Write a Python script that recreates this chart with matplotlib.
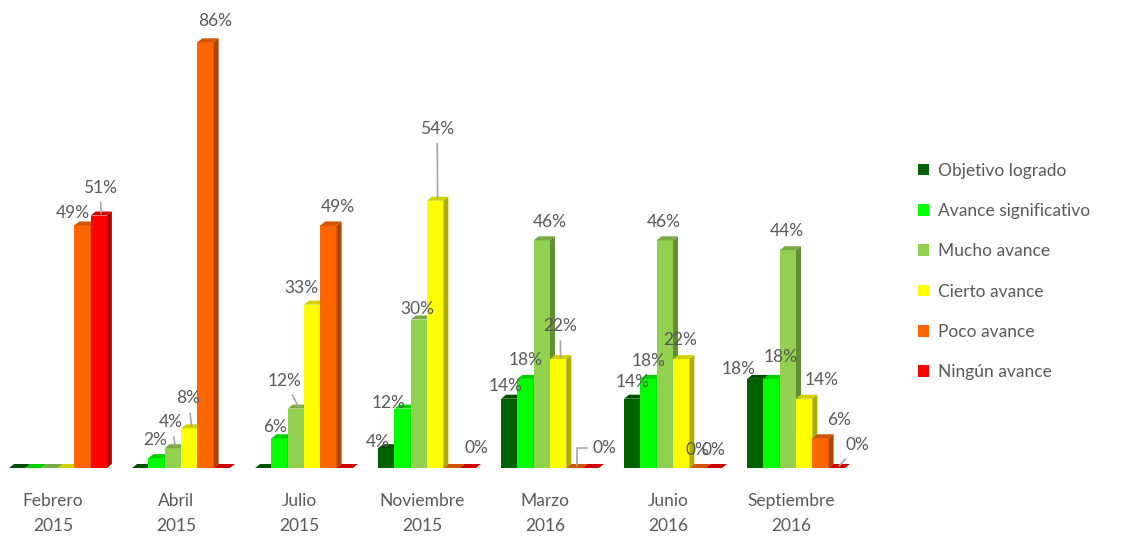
import matplotlib.pyplot as plt
import matplotlib.colors as mcolors
from matplotlib.patches import Polygon, Patch

plt.rcParams['font.family'] = ['Lato', 'DejaVu Sans']

# Data
categories = ['Febrero\n2015', 'Abril\n2015', 'Julio\n2015', 'Noviembre\n2015',
              'Marzo\n2016', 'Junio\n2016', 'Septiembre\n2016']
series = ['Objetivo logrado', 'Avance significativo', 'Mucho avance',
          'Cierto avance', 'Poco avance', 'Ningún avance']
objetivo = [0, 0, 0, 4, 14, 14, 18]
significativo = [0, 2, 6, 12, 18, 18, 18]
mucho = [0, 4, 12, 30, 46, 46, 44]
cierto = [0, 8, 33, 54, 22, 22, 14]
poco = [49, 86, 49, 0, 0, 0, 6]
ninguno = [51, 0, 0, 0, 0, 0, 0]
values = [objetivo, significativo, mucho, cierto, poco, ninguno]

colors = ['#006100', '#00FF00', '#92D050', '#FFFF00', '#FF6600', '#FF0000']
TXT = '#595959'
LEAD = '#a6a6a6'
FS = 12.5

# label placement (pixels from front-top centre of bar), and leader style
labels = {
    (0, 4): (-10, -12, None), (0, 5): (1, -28, 'line'),
    (1, 1): (-1, -18, None), (1, 2): (-2, -26, 'line'), (1, 3): (-1, -30, 'line'),
    (1, 4): (10, -21, None),
    (2, 1): (-4, -11, None), (2, 2): (-11, -28, 'line'), (2, 3): (-11, -17, None),
    (2, 4): (9, -18, None),
    (3, 0): (-8, -6, None), (3, 1): (-14, -6, None), (3, 2): (-2, -10, None),
    (3, 3): (2, -72, 'line'), (3, 5): (9, -20, None),
    (4, 0): (-4, -13, None), (4, 1): (0, -19, None), (4, 2): (8, -18, None),
    (4, 3): (2, -33, 'line'), (4, 4): (30, -20, 'elbow'),
    (5, 0): (0, -17, None), (5, 1): (0, -18, None), (5, 2): (-1, -18, None),
    (5, 3): (-1, -19, None), (5, 4): (0, -18, None), (5, 5): (0, -18, None),
    (6, 0): (-17, -10, None), (6, 1): (9, -22, None), (6, 2): (-1, -19, None),
    (6, 3): (17, -19, None), (6, 4): (19, -18, None), (6, 5): (21, -23, 'line'),
}


def shade(c, f):
    r, g, b = mcolors.to_rgb(c)
    return (r * f, g * f, b * f)


fig = plt.figure(figsize=(11.22, 5.38), dpi=100)
ax = fig.add_axes([0, 70 / 538, 860 / 1122, 445.5 / 538])
ax.set_xlim(-58 / 123, (860 - 58) / 123)
ax.set_ylim(0, 90)
for s in ax.spines.values():
    s.set_visible(False)
ax.set_yticks([])

wd = 16.3 / 123      # bar width in group units
ddx = 5 / 123        # depth offset x
ddy = 4 / 4.95       # depth offset y

z = 2
for g in range(len(categories)):
    for j, vals in enumerate(values):
        v = vals[g]
        xl = g - 3 * wd + j * wd
        xr = xl + wd
        c = colors[j]
        if v > 0:
            ax.bar(xl, v, width=wd, align='edge', color=c, linewidth=0, zorder=z)
            ax.add_patch(Polygon([(xr, 0), (xr + ddx, ddy), (xr + ddx, v + ddy), (xr, v)],
                                 closed=True, color=shade(c, 0.68), lw=0, zorder=z))
        ax.add_patch(Polygon([(xl, v), (xl + ddx, v + ddy), (xr + ddx, v + ddy), (xr, v)],
                             closed=True, color=shade(c, 0.82), lw=0, zorder=z))
        z += 1

        if (g, j) in labels:
            ox, oy, lead = labels[(g, j)]
            anchor = (xl + wd / 2 + ddx / 2, v + ddy / 2)
            kw = {}
            if lead == 'line':
                kw['arrowprops'] = dict(arrowstyle='-', color=LEAD, lw=1.2,
                                        shrinkA=3, shrinkB=0)
            elif lead == 'elbow':
                kw['arrowprops'] = dict(arrowstyle='-', color=LEAD, lw=1.2,
                                        shrinkA=2, shrinkB=0,
                                        connectionstyle='angle,angleA=0,angleB=90,rad=0')
            ax.annotate(f'{v}%', xy=anchor, xytext=(ox - 2.5, -(oy + 2)),
                        textcoords='offset pixels', ha='center', va='center',
                        fontsize=FS, color=TXT, zorder=100, **kw)

ax.set_xticks([g - 0.04 for g in range(len(categories))])
ax.set_xticklabels(categories, fontsize=FS, color=TXT, linespacing=1.7)
ax.tick_params(axis='x', length=0, pad=18)

handles = [Patch(facecolor=c, edgecolor='none') for c in colors]
fig.legend(handles, series, loc='upper left', bbox_to_anchor=(902 / 1122, 1 - 147 / 538),
           frameon=False, handlelength=0.65, handleheight=0.65, handletextpad=0.5,
           labelspacing=1.4, fontsize=FS, labelcolor=TXT, borderpad=0.4)

fig.savefig('out.png', dpi=100)
